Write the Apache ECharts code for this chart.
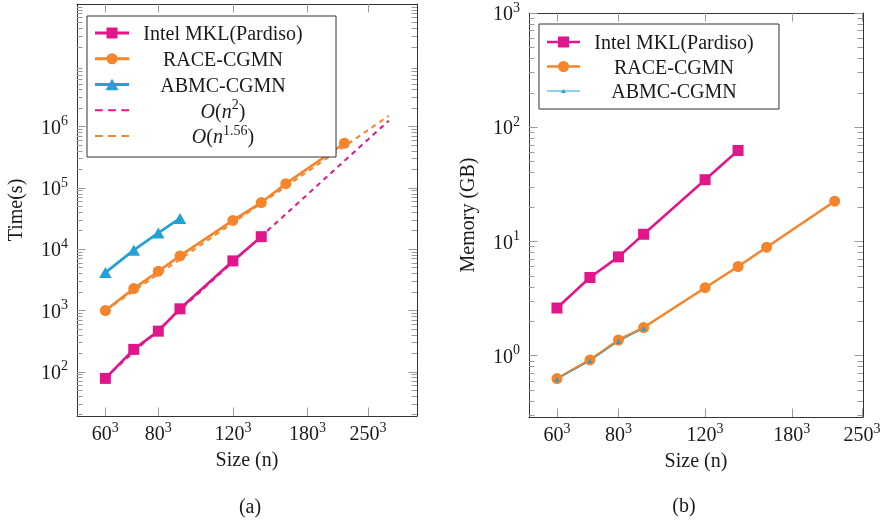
<!DOCTYPE html>
<html>
<head>
<meta charset="utf-8">
<script src="https://cdn.jsdelivr.net/npm/echarts@6/dist/echarts.min.js"></script>
<style>
  html, body { margin: 0; padding: 0; background: #fff; }
  #chart { width: 885px; height: 524px; }
</style>
</head>
<body>
<div id="chart"></div>
<script>
// Grid edge length of the cubic test problems; the unknown count is n = size^3.
const mklSizes  = [60, 70, 80, 90, 120, 140];
const raceSizes = [60, 70, 80, 90, 120, 140, 160, 220];
const abmcSizes = [60, 70, 80, 90];
const refSizes  = [60, 280];

// (a) time to solution, seconds
const mklTime  = [78, 232, 460, 1065, 6440, 16000];
const raceTime = [1000, 2280, 4370, 7760, 29500, 57700, 117000, 535000];
const abmcTime = [4150, 9640, 18400, 31700];
const quadRef  = [80, 1.25e6];    // O(n^2) guide
const fitRef   = [1000, 1.5e6];   // O(n^1.56) guide

// (b) memory footprint, GB
const mklMem  = [2.61, 4.83, 7.32, 11.55, 34.7, 62.5];
const raceMem = [0.63, 0.916, 1.37, 1.76, 3.93, 6.03, 8.9, 22.5];
const abmcMem = [0.62, 0.90, 1.33, 1.73];

// axis ticks
const sizeTicks = [60, 80, 120, 180, 250];
const timeTicks = [1e2, 1e3, 1e4, 1e5, 1e6];
const memTicks  = [1e0, 1e1, 1e2, 1e3];

const NAMES = ['Intel MKL(Pardiso)', 'RACE-CGMN', 'ABMC-CGMN', 'O(n^2)', 'O(n^1.56)'];

const MAGENTA = '#E0168A';
const ORANGE  = '#F5842A';
const BLUE    = '#22A2D4';
const INK     = '#1a1a1a';
const FRAME   = '#333333';
const TICK    = '#9a9a9a';
const SERIF   = '"Liberation Serif", "Times New Roman", serif';

const pts = (sizes, vals) => sizes.map((s, i) => [s * s * s, vals[i]]);

function minorTicks(lo, hi) {
  const out = [];
  for (let e = Math.floor(Math.log10(lo)); e <= Math.ceil(Math.log10(hi)); e++) {
    for (let k = 2; k <= 9; k++) {
      const v = k * Math.pow(10, e);
      if (v >= lo && v <= hi) out.push(v);
    }
  }
  return out;
}

const supRich = {
  b: { fontFamily: SERIF, fontSize: 20, lineHeight: 24, verticalAlign: 'bottom', color: INK },
  s: { fontFamily: SERIF, fontSize: 14, lineHeight: 14, verticalAlign: 'top', color: INK }
};
const nameStyle = { fontFamily: SERIF, fontSize: 20, color: INK };
const frameLine = { show: true, lineStyle: { color: FRAME, width: 1 } };

function xAxes(gridIndex, min, max) {
  const ticks = sizeTicks.map(s => s * s * s);
  const common = { type: 'log', logBase: 10, gridIndex, min, max, splitLine: { show: false } };
  const tick = { show: true, inside: true, length: 8.5, customValues: ticks, lineStyle: { color: TICK, width: 1 } };
  return [
    { ...common, position: 'bottom', axisLine: frameLine, axisTick: tick,
      axisLabel: { customValues: ticks, margin: 5, rich: supRich,
        formatter: v => `{b|${Math.round(Math.cbrt(v))}}{s|3}` },
      name: 'Size (n)', nameLocation: 'middle', nameGap: 35, nameTextStyle: nameStyle },
    { ...common, position: 'top', axisLine: frameLine, axisTick: tick, axisLabel: { show: false } }
  ];
}

function yAxes(gridIndex, min, max, majors, name) {
  const minors = minorTicks(min, max);
  const common = { type: 'log', logBase: 10, gridIndex, min, max, offset: 0, splitLine: { show: false } };
  const majorTick = { show: true, inside: true, length: 8.5, customValues: majors, lineStyle: { color: TICK, width: 1 } };
  const minorTick = { show: true, inside: true, length: 5.5, customValues: minors, lineStyle: { color: TICK, width: 1 } };
  return [
    { ...common, position: 'left', axisLine: frameLine, axisTick: majorTick,
      axisLabel: { customValues: majors, margin: 9, rich: supRich,
        formatter: v => `{b|10}{s|${Math.round(Math.log10(v))}}` },
      name, nameLocation: 'middle', nameRotate: 90, nameGap: 50, nameTextStyle: nameStyle },
    { ...common, position: 'left', axisLine: { show: false }, axisTick: minorTick, axisLabel: { show: false } },
    { ...common, position: 'right', axisLine: frameLine, axisTick: majorTick, axisLabel: { show: false } },
    { ...common, position: 'right', axisLine: { show: false }, axisTick: minorTick, axisLabel: { show: false } }
  ];
}

// legend text: names centred in a fixed-width cell, exponents as superscripts
const legendRich = {
  t: { fontFamily: SERIF, fontSize: 20, lineHeight: 24, verticalAlign: 'bottom', align: 'center', color: INK },
  i: { fontFamily: SERIF, fontSize: 20, lineHeight: 24, verticalAlign: 'bottom', align: 'center', color: INK, fontStyle: 'italic' },
  s: { fontFamily: SERIF, fontSize: 14, lineHeight: 14, verticalAlign: 'top', align: 'center', color: INK }
};
function legendText(name) {
  const m = name.match(/^O\(n\^([\d.]+)\)$/);
  if (m) return `{i|O}{t|(}{i|n}{s|${m[1]}}{t|)}`;
  return `{t|${name}}`;
}

function icons(w, thick) {
  const c = w / 2;
  const h = thick / 2;
  const line = `M0 ${7 - h}H${w}V${7 + h}H0Z`;
  return {
    square: `${line} M${c - 5.5} 1.5H${c + 5.5}V12.5H${c - 5.5}Z`,
    circle: `${line} M${c - 5.5} 7A5.5 5.5 0 1 1 ${c + 5.5} 7A5.5 5.5 0 1 1 ${c - 5.5} 7Z`,
    triangle: `${line} M${c} 1.2L${c + 6.5} 12.8H${c - 6.5}Z`,
    small: `M0 6.5H${w}V7.5H0Z M${c} 5L${c + 2.5} 9H${c - 2.5}Z`,
    dashed: 'M0 0H7V2H0Z M12 0H19V2H12Z M24 0H31V2H24Z'
  };
}
const iconsA = icons(34, 2.8);
const iconsB = icons(33, 2.6);

function legendBox(left, top, padding, itemWidth, gap, items) {
  return {
    left, top, orient: 'vertical', padding, itemGap: gap,
    itemWidth, itemHeight: 14, selectedMode: false,
    backgroundColor: '#ffffff', borderColor: FRAME, borderWidth: 1,
    itemStyle: { borderWidth: 0 },
    formatter: legendText,
    textStyle: { width: 178, height: 24, lineHeight: 24, fontFamily: SERIF, fontSize: 20, color: INK, rich: legendRich },
    data: items.map(([name, icon, color]) => ({ name, icon: 'path://' + icon, itemStyle: { color, borderWidth: 0 } }))
  };
}

const timeMin = 19, timeMax = 1e8;
const memMin = 0.29, memMax = 1e3;

const option = {
  animation: false,
  backgroundColor: '#ffffff',
  textStyle: { fontFamily: SERIF },
  grid: [
    { left: 77, top: 4, width: 340, height: 412, outerBoundsMode: 'none', containLabel: false },
    { left: 529, top: 13, width: 334, height: 404, outerBoundsMode: 'none', containLabel: false }
  ],
  xAxis: [
    ...xAxes(0, 136000, 34.8e6),
    ...xAxes(1, 145900, 15.85e6)
  ],
  yAxis: [
    ...yAxes(0, timeMin, timeMax, timeTicks, 'Time(s)'),
    ...yAxes(1, memMin, memMax, memTicks, 'Memory (GB)')
  ],
  legend: [
    legendBox(87, 16, [5, 24, 9, 8], 34, 1.75, [
      [NAMES[0], iconsA.square, MAGENTA],
      [NAMES[1], iconsA.circle, ORANGE],
      [NAMES[2], iconsA.triangle, BLUE],
      [NAMES[3], iconsA.dashed, MAGENTA],
      [NAMES[4], iconsA.dashed, ORANGE]
    ]),
    legendBox(539, 24, [6, 16, 6, 8], 33, 0.5, [
      [NAMES[0], iconsB.square, MAGENTA],
      [NAMES[1], iconsB.circle, ORANGE],
      [NAMES[2], iconsB.small, BLUE]
    ])
  ],
  series: [
    // (a) guide lines underneath the measurements
    { name: NAMES[3], type: 'line', xAxisIndex: 0, yAxisIndex: 0, data: pts(refSizes, quadRef),
      symbol: 'none', lineStyle: { color: MAGENTA, width: 2, type: [5, 4.5] }, itemStyle: { color: MAGENTA } },
    { name: NAMES[4], type: 'line', xAxisIndex: 0, yAxisIndex: 0, data: pts(refSizes, fitRef),
      symbol: 'none', lineStyle: { color: ORANGE, width: 2, type: [5, 4.5] }, itemStyle: { color: ORANGE } },
    // (a) time
    { name: NAMES[0], type: 'line', xAxisIndex: 0, yAxisIndex: 0, data: pts(mklSizes, mklTime),
      symbol: 'rect', symbolSize: 11, lineStyle: { color: MAGENTA, width: 2.7 }, itemStyle: { color: MAGENTA } },
    { name: NAMES[1], type: 'line', xAxisIndex: 0, yAxisIndex: 0, data: pts(raceSizes, raceTime),
      symbol: 'circle', symbolSize: 11, lineStyle: { color: ORANGE, width: 2.7 }, itemStyle: { color: ORANGE } },
    { name: NAMES[2], type: 'line', xAxisIndex: 0, yAxisIndex: 0, data: pts(abmcSizes, abmcTime),
      symbol: 'triangle', symbolSize: [12.5, 11], lineStyle: { color: BLUE, width: 2.7 }, itemStyle: { color: BLUE } },
    // (b) memory
    { name: NAMES[0], type: 'line', xAxisIndex: 2, yAxisIndex: 4, data: pts(mklSizes, mklMem),
      symbol: 'rect', symbolSize: 11, lineStyle: { color: MAGENTA, width: 2.5 }, itemStyle: { color: MAGENTA } },
    { name: NAMES[1], type: 'line', xAxisIndex: 2, yAxisIndex: 4, data: pts(raceSizes, raceMem),
      symbol: 'circle', symbolSize: 11, lineStyle: { color: ORANGE, width: 2.5 }, itemStyle: { color: ORANGE } },
    { name: NAMES[2], type: 'line', xAxisIndex: 2, yAxisIndex: 4, data: pts(abmcSizes, abmcMem),
      symbol: 'triangle', symbolSize: 5, lineStyle: { color: BLUE, width: 1 }, itemStyle: { color: BLUE } }
  ],
  graphic: [
    { type: 'text', x: 250, y: 508, style: { text: '(a)', font: '20px ' + SERIF, fill: INK, align: 'center', verticalAlign: 'middle' } },
    { type: 'text', x: 684, y: 507, style: { text: '(b)', font: '20px ' + SERIF, fill: INK, align: 'center', verticalAlign: 'middle' } }
  ]
};

const chart = echarts.init(document.getElementById('chart'), null, { renderer: 'canvas' });
chart.setOption(option);
</script>
</body>
</html>
